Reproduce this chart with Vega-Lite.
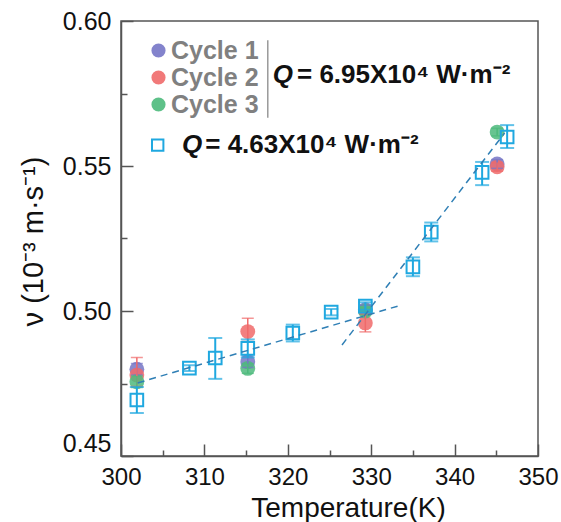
{
  "$schema": "https://vega.github.io/schema/vega-lite/v6.json",
  "width": 417,
  "height": 435,
  "autosize": {"type": "none"},
  "padding": {"left": 121, "top": 21, "right": 23, "bottom": 66},
  "background": "white",
  "config": {
    "font": "Liberation Sans",
    "view": {"stroke": "#555555", "strokeWidth": 1.5}
  },
  "datasets": {
    "squares": [
      {"T": 301.9, "v": 0.4693, "lo": 0.4648, "hi": 0.4738},
      {"T": 308.2, "v": 0.4803, "lo": 0.4793, "hi": 0.4813},
      {"T": 311.3, "v": 0.4838, "lo": 0.4766, "hi": 0.4907},
      {"T": 315.2, "v": 0.4871, "lo": 0.4840, "hi": 0.4902},
      {"T": 320.6, "v": 0.4924, "lo": 0.4895, "hi": 0.4953},
      {"T": 325.2, "v": 0.4996, "lo": 0.4985, "hi": 0.5007},
      {"T": 329.3, "v": 0.5017, "lo": 0.5004, "hi": 0.5030},
      {"T": 335.0, "v": 0.5152, "lo": 0.5120, "hi": 0.5185},
      {"T": 337.2, "v": 0.5272, "lo": 0.5240, "hi": 0.5305},
      {"T": 343.3, "v": 0.5478, "lo": 0.5434, "hi": 0.5514},
      {"T": 346.3, "v": 0.5600, "lo": 0.5562, "hi": 0.5641}
    ],
    "circles": [
      {"cycle": "Cycle 1", "T": 301.9, "v": 0.4799, "lo": 0.4779, "hi": 0.4819},
      {"cycle": "Cycle 1", "T": 315.2, "v": 0.4825, "lo": 0.4805, "hi": 0.4845},
      {"cycle": "Cycle 1", "T": 329.3, "v": 0.5005, "lo": 0.4990, "hi": 0.5020},
      {"cycle": "Cycle 1", "T": 345.1, "v": 0.5507, "lo": 0.5492, "hi": 0.5522},
      {"cycle": "Cycle 2", "T": 301.9, "v": 0.4779, "lo": 0.4740, "hi": 0.4840},
      {"cycle": "Cycle 2", "T": 315.2, "v": 0.4929, "lo": 0.4895, "hi": 0.4975},
      {"cycle": "Cycle 2", "T": 329.3, "v": 0.4959, "lo": 0.4928, "hi": 0.4990},
      {"cycle": "Cycle 2", "T": 345.1, "v": 0.5497, "lo": 0.5482, "hi": 0.5512},
      {"cycle": "Cycle 3", "T": 301.9, "v": 0.4756, "lo": 0.4736, "hi": 0.4776},
      {"cycle": "Cycle 3", "T": 315.2, "v": 0.4802, "lo": 0.4785, "hi": 0.4819},
      {"cycle": "Cycle 3", "T": 329.3, "v": 0.5000, "lo": 0.4988, "hi": 0.5012},
      {"cycle": "Cycle 3", "T": 345.1, "v": 0.5617, "lo": 0.5604, "hi": 0.5630}
    ],
    "fits": [
      {"fit": "low", "T": 302.0, "v": 0.4752},
      {"fit": "low", "T": 333.2, "v": 0.5017},
      {"fit": "high", "T": 326.5, "v": 0.4883},
      {"fit": "high", "T": 346.0, "v": 0.5614}
    ],
    "qlabels": [
      {"T": 318.2, "v": 0.5814, "text": "Q"},
      {"T": 307.3, "v": 0.5572, "text": "Q"}
    ],
    "qvalues": [
      {"T": 321.1, "v": 0.5814, "text": "= 6.95X10⁴ W·m⁻²"},
      {"T": 310.1, "v": 0.5572, "text": "= 4.63X10⁴ W·m⁻²"}
    ],
    "legendsquare": [
      {"T": 304.4, "v": 0.5572}
    ],
    "separator": [
      {"T": 317.6, "v": 0.5934, "v2": 0.5666}
    ]
  },
  "resolve": {"axis": {"x": "independent", "y": "independent"}},
  "layer": [
    {
      "data": {"name": "fits"},
      "mark": {"type": "line", "opacity": 0},
      "encoding": {
        "x": {"field": "T", "type": "quantitative", "scale": {"domain": [300, 350], "nice": false, "zero": false},
          "axis": {"orient": "bottom", "values": [305, 315, 325, 335, 345], "tickSize": -6, "tickWidth": 1.5, "tickColor": "#555555", "labels": false, "domain": false, "grid": false, "title": null}},
        "y": {"field": "v", "type": "quantitative", "scale": {"domain": [0.45, 0.6], "nice": false, "zero": false},
          "axis": {"orient": "left", "values": [0.475, 0.525, 0.575], "tickSize": -6, "tickWidth": 1.5, "tickColor": "#555555", "labels": false, "domain": false, "grid": false, "title": null}},
        "detail": {"field": "fit"}
      }
    },
    {
      "data": {"name": "circles"},
      "mark": {"type": "point", "shape": "circle", "filled": true, "size": 220, "opacity": 0.85},
      "encoding": {
        "x": {"field": "T", "type": "quantitative", "scale": {"domain": [300, 350], "nice": false, "zero": false},
          "axis": {"orient": "bottom", "values": [300, 310, 320, 330, 340, 350], "format": "d", "tickSize": -12, "tickWidth": 1.5, "tickColor": "#555555", "domainColor": "#555555", "domainWidth": 1.5, "grid": false, "labelFontSize": 24, "labelColor": "#111111", "labelPadding": 21, "labelFlush": false, "labelOverlap": false,
            "title": "Temperature(K)", "titleFontSize": 28, "titleFontWeight": "normal", "titleColor": "#111111", "titleX": 227, "titleY": 52, "titleBaseline": "middle"}},
        "y": {"field": "v", "type": "quantitative", "scale": {"domain": [0.45, 0.6], "nice": false, "zero": false},
          "axis": {"orient": "left", "values": [0.45, 0.5, 0.55, 0.6], "format": ".2f", "tickSize": -12, "tickWidth": 1.5, "tickColor": "#555555", "domainColor": "#555555", "domainWidth": 1.5, "grid": false, "labelFontSize": 25, "labelColor": "#111111", "labelPadding": 22, "labelFlush": false, "labelOverlap": false,
            "labelBaseline": {"condition": {"test": "datum.value < 0.46", "value": "bottom"}, "value": "middle"},
            "title": "ν (10⁻³ m·s⁻¹)", "titleFontSize": 29, "titleFontWeight": "normal", "titleColor": "#111111", "titleX": -88, "titleY": 220, "titleBaseline": "middle", "titleAlign": "center", "titleAngle": -90}},
        "color": {"field": "cycle", "type": "nominal",
          "scale": {"domain": ["Cycle 1", "Cycle 2", "Cycle 3"], "range": ["#7676c6", "#f06a6a", "#4dba7c"]},
          "legend": {"orient": "none", "legendX": 25, "legendY": 17, "title": null, "symbolType": "circle", "symbolSize": 200, "symbolOpacity": 0.9, "symbolStrokeWidth": 0, "labelFontSize": 25, "labelFontWeight": "bold", "labelColor": "#808080", "labelOffset": 0, "rowPadding": 1, "padding": 0}}
      }
    },
    {
      "data": {"name": "circles"},
      "mark": {"type": "errorbar", "ticks": true, "size": 12, "thickness": 1.5},
      "encoding": {
        "x": {"field": "T", "type": "quantitative", "scale": {"domain": [300, 350], "nice": false, "zero": false}, "axis": null},
        "y": {"field": "lo", "type": "quantitative", "scale": {"domain": [0.45, 0.6], "nice": false, "zero": false}, "axis": null},
        "y2": {"field": "hi"},
        "color": {"field": "cycle", "type": "nominal", "legend": null}
      }
    },
    {
      "data": {"name": "squares"},
      "mark": {"type": "errorbar", "ticks": true, "size": 14, "thickness": 2, "color": "#1fa8e0"},
      "encoding": {
        "x": {"field": "T", "type": "quantitative", "scale": {"domain": [300, 350], "nice": false, "zero": false}, "axis": null},
        "y": {"field": "lo", "type": "quantitative", "scale": {"domain": [0.45, 0.6], "nice": false, "zero": false}, "axis": null},
        "y2": {"field": "hi"}
      }
    },
    {
      "data": {"name": "squares"},
      "mark": {"type": "point", "shape": "square", "filled": false, "size": 160, "stroke": "#1fa8e0", "strokeWidth": 2, "opacity": 1},
      "encoding": {
        "x": {"field": "T", "type": "quantitative", "scale": {"domain": [300, 350], "nice": false, "zero": false}, "axis": null},
        "y": {"field": "v", "type": "quantitative", "scale": {"domain": [0.45, 0.6], "nice": false, "zero": false}, "axis": null}
      }
    },
    {
      "data": {"name": "fits"},
      "mark": {"type": "line", "color": "#2f7fb5", "strokeWidth": 1.5, "strokeDash": [7, 5]},
      "encoding": {
        "x": {"field": "T", "type": "quantitative", "scale": {"domain": [300, 350], "nice": false, "zero": false}, "axis": null},
        "y": {"field": "v", "type": "quantitative", "scale": {"domain": [0.45, 0.6], "nice": false, "zero": false}, "axis": null},
        "detail": {"field": "fit"}
      }
    },
    {
      "data": {"name": "separator"},
      "mark": {"type": "rule", "color": "#999999", "strokeWidth": 1.5},
      "encoding": {
        "x": {"field": "T", "type": "quantitative", "scale": {"domain": [300, 350], "nice": false, "zero": false}, "axis": null},
        "y": {"field": "v", "type": "quantitative", "scale": {"domain": [0.45, 0.6], "nice": false, "zero": false}, "axis": null},
        "y2": {"field": "v2"}
      }
    },
    {
      "data": {"name": "legendsquare"},
      "mark": {"type": "point", "shape": "square", "filled": false, "size": 130, "stroke": "#1fa8e0", "strokeWidth": 2, "opacity": 1},
      "encoding": {
        "x": {"field": "T", "type": "quantitative", "scale": {"domain": [300, 350], "nice": false, "zero": false}, "axis": null},
        "y": {"field": "v", "type": "quantitative", "scale": {"domain": [0.45, 0.6], "nice": false, "zero": false}, "axis": null}
      }
    },
    {
      "data": {"name": "qlabels"},
      "mark": {"type": "text", "align": "left", "baseline": "middle", "fontSize": 26, "fontWeight": "bold", "fontStyle": "italic", "color": "#111111"},
      "encoding": {
        "x": {"field": "T", "type": "quantitative", "scale": {"domain": [300, 350], "nice": false, "zero": false}, "axis": null},
        "y": {"field": "v", "type": "quantitative", "scale": {"domain": [0.45, 0.6], "nice": false, "zero": false}, "axis": null},
        "text": {"field": "text"}
      }
    },
    {
      "data": {"name": "qvalues"},
      "mark": {"type": "text", "align": "left", "baseline": "middle", "fontSize": 26, "fontWeight": "bold", "color": "#111111"},
      "encoding": {
        "x": {"field": "T", "type": "quantitative", "scale": {"domain": [300, 350], "nice": false, "zero": false}, "axis": null},
        "y": {"field": "v", "type": "quantitative", "scale": {"domain": [0.45, 0.6], "nice": false, "zero": false}, "axis": null},
        "text": {"field": "text"}
      }
    }
  ]
}
